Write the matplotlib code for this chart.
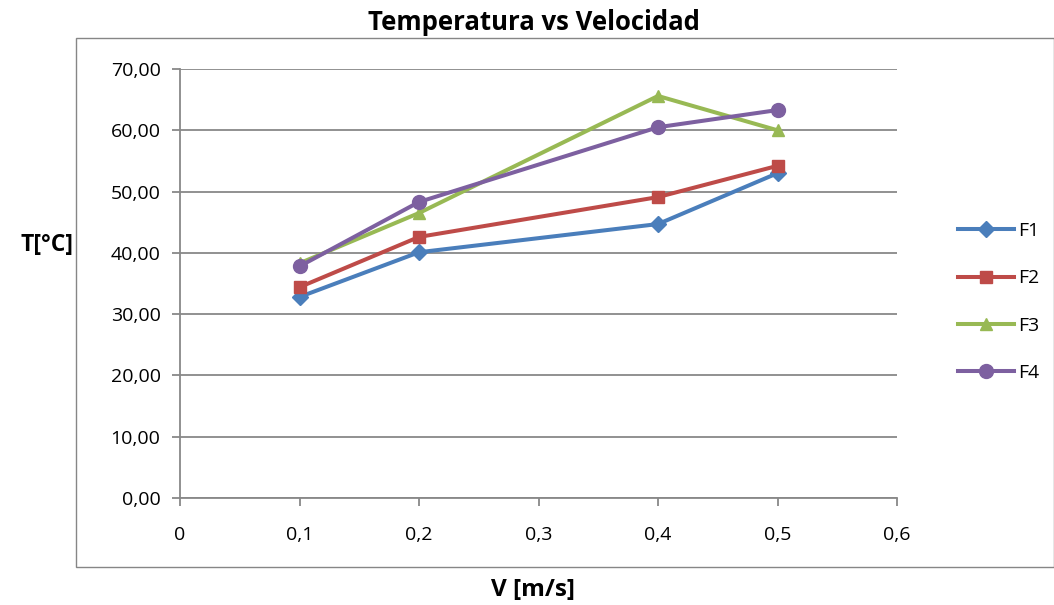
import matplotlib.pyplot as plt
from matplotlib.patches import Rectangle
from matplotlib.ticker import FuncFormatter

plt.rcParams['font.family'] = ['Open Sans', 'DejaVu Sans']

# velocidad [m/s] y temperaturas por serie
velocidad = [0.1, 0.2, 0.4, 0.5]
f1 = [32.8, 40.1, 44.7, 53.0]
f2 = [34.4, 42.6, 49.1, 54.2]
f3 = [38.3, 46.5, 65.6, 60.0]
f4 = [37.8, 48.3, 60.5, 63.3]

series = [
    ('F1', f1, '#4A7EBB', 'D', 8),
    ('F2', f2, '#BE4B48', 's', 9),
    ('F3', f3, '#98B954', '^', 9),
    ('F4', f4, '#7D60A0', 'o', 10),
]

fig = plt.figure(figsize=(10.54, 6.05), dpi=100)
# marco exterior del grafico
fig.patches.append(Rectangle((76 / 1054, 1 - 567 / 605), 1 - 76 / 1054, (567 - 38) / 605,
                             transform=fig.transFigure, fill=False,
                             edgecolor='#868686', linewidth=1))

ax = fig.add_axes([180 / 1054, 1 - 498 / 605, (897 - 180) / 1054, (498 - 69) / 605])

for name, vals, col, mk, ms in series:
    ax.plot(velocidad, vals, color=col, marker=mk, markersize=ms, linewidth=2.9,
            label=name, clip_on=False)

ax.set_xlim(0, 0.6)
ax.set_ylim(0, 70)
ax.set_xticks([0, 0.1, 0.2, 0.3, 0.4, 0.5, 0.6])
ax.set_yticks(range(0, 71, 10))
ax.xaxis.set_major_formatter(FuncFormatter(lambda v, p: ('%g' % round(v, 1)).replace('.', ',')))
ax.yaxis.set_major_formatter(FuncFormatter(lambda v, p: ('%.2f' % v).replace('.', ',')))
ax.grid(axis='y', color='#888888', linewidth=1.3)
ax.set_axisbelow(True)
for s in ['top', 'right']:
    ax.spines[s].set_visible(False)
for s in ['left', 'bottom']:
    ax.spines[s].set_color('#888888')
    ax.spines[s].set_linewidth(1.3)
ax.tick_params(axis='both', direction='out', length=6, width=1.3, color='#888888',
               labelsize=14)
ax.tick_params(axis='x', pad=14)
ax.tick_params(axis='y', pad=8)

fig.text(534 / 1054, 1 - 23 / 605, 'Temperatura vs Velocidad', ha='center', va='center',
         fontsize=18.5, fontweight='bold')
fig.text(47 / 1054, 1 - 245 / 605, 'T[°C]', ha='center', va='center',
         fontsize=16.5, fontweight='bold')
fig.text(533 / 1054, 1 - 590 / 605, 'V [m/s]', ha='center', va='center',
         fontsize=17.5, fontweight='bold')

fig.legend(loc='center left', bbox_to_anchor=(940 / 1054, 1 - 302 / 605), frameon=False,
           fontsize=14, handlelength=2.9, labelspacing=1.5, handletextpad=0.2)

fig.savefig('out.png', dpi=100)
